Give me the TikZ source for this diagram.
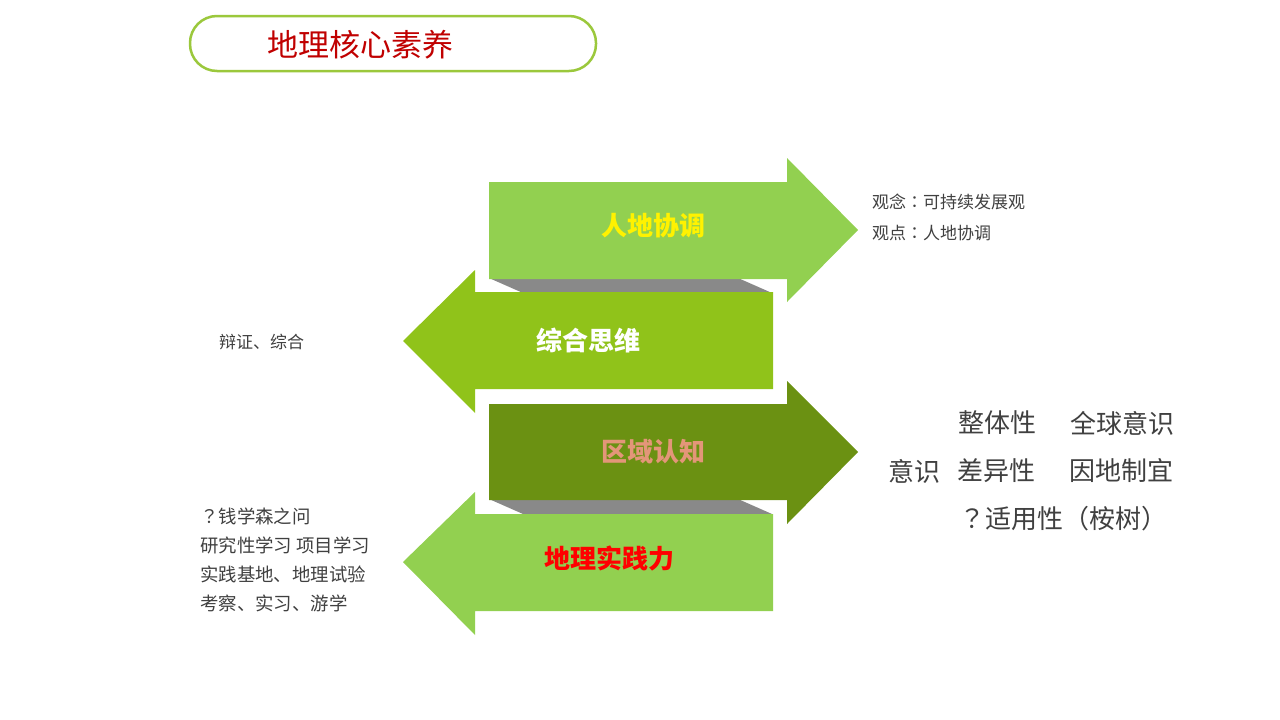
\documentclass[tikz,border=0pt]{standalone}
\usepackage{fontspec}
\newfontfamily\cjk{Noto Sans CJK SC}
\newfontfamily\cjktc{Noto Sans CJK TC}
\newcommand{\tcp}[1]{{\cjktc #1}}
\definecolor{lgreen}{HTML}{92D050}
\definecolor{mgreen}{HTML}{90C31A}
\definecolor{dgreen}{HTML}{6B9112}
\definecolor{shadowgray}{HTML}{898989}
\definecolor{titleline}{HTML}{9BC83C}
\definecolor{titlered}{HTML}{C00000}
\definecolor{salmon}{HTML}{E39679}
\definecolor{txtgray}{HTML}{404040}
\tikzset{
  arrowlabel/.style={inner sep=0pt, font=\cjk\bfseries\fontsize{26}{28}\selectfont},
  smalltxt/.style={inner sep=0pt, anchor=west, text=txtgray, font=\cjk\fontsize{17}{19}\selectfont},
  midtxt/.style={inner sep=0pt, anchor=west, text=txtgray, font=\cjk\fontsize{18.4}{20}\selectfont},
  bigtxt/.style={inner sep=0pt, anchor=west, text=txtgray, font=\cjk\fontsize{26}{28}\selectfont},
  shadowbar/.style={fill=shadowgray}
}
\begin{document}
\begin{tikzpicture}[x=1pt,y=-1pt]
\useasboundingbox (0,0) rectangle (1280,720);
\fill[white] (0,0) rectangle (1280,720);
% title
\draw[titleline, line width=2.5pt, rounded corners=27pt] (190,16) rectangle (596,71);
\node[inner sep=0pt, text=titlered, font=\cjk\fontsize{31}{33}\selectfont] (title) at (360,45) {地理核心素养};
% shadows
\fill[shadowbar] (489,278) -- (738,278) -- (772,293) -- (523,293) -- cycle;
\fill[shadowbar] (489,499) -- (738,499) -- (772,514) -- (523,514) -- cycle;
% arrows
\fill[lgreen] (489,182) -- (787,182) -- (787,158) -- (858,230) -- (787,302) -- (787,279) -- (489,279) -- cycle;
\fill[mgreen] (773,292) -- (475,292) -- (475,270) -- (403,341) -- (475,413) -- (475,389) -- (773,389) -- cycle;
\fill[dgreen] (489,404) -- (787,404) -- (787,381) -- (858,452) -- (787,524) -- (787,500) -- (489,500) -- cycle;
\fill[lgreen] (773,514) -- (475,514) -- (475,492) -- (403,562) -- (475,635) -- (475,611) -- (773,611) -- cycle;
% arrow labels
\node[arrowlabel, text=yellow] (a1) at (653,226) {人地协调};
\node[arrowlabel, text=white] (a2) at (588,340) {综合思维};
\node[arrowlabel, text=salmon] (a3) at (653,452) {区域认知};
\node[arrowlabel, text=red] (a4) at (609,558) {地理实践力};
% right small texts
\node[smalltxt] (r1) at (872,202) {观念\tcp{：}可持续发展观};
\node[smalltxt] (r2) at (872,233) {观点\tcp{：}人地协调};
% left small text
\node[smalltxt] (l1) at (219,342) {辩证、综合};
% right big texts
\node[bigtxt] (b1) at (958,423) {整体性};
\node[bigtxt] (b2) at (1070,423) {全球意识};
\node[bigtxt] (b3) at (888,471) {意识};
\node[bigtxt] (b4) at (957,471) {差异性};
\node[bigtxt] (b5) at (1069,471) {因地制宜};
\node[bigtxt] (b6) at (959,519) {\tcp{？}适用性\tcp{（}桉树\tcp{）}};
% left bottom texts
\node[midtxt] (p1) at (200,516) {\tcp{？}钱学森之问};
\node[midtxt] (p2) at (200,545) {研究性学习 项目学习};
\node[midtxt] (p3) at (200,574) {实践基地、地理试验};
\node[midtxt] (p4) at (200,603) {考察、实习、游学};
\end{tikzpicture}
\end{document}
